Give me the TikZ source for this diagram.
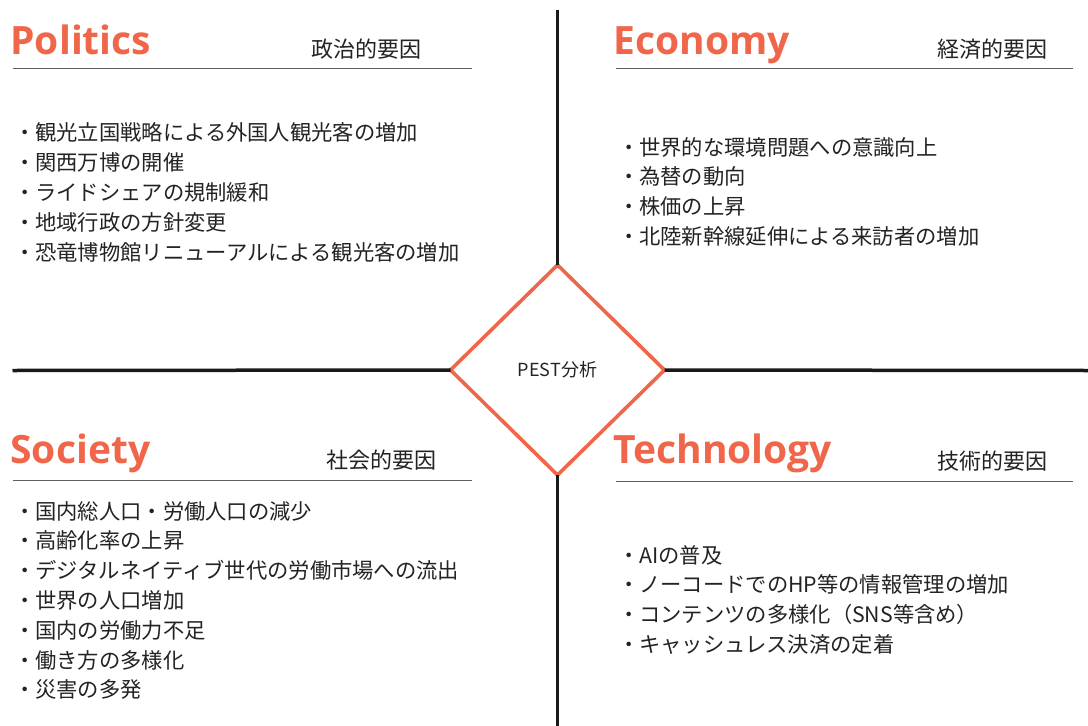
\documentclass[tikz,border=0pt]{standalone}
\usepackage{fontspec}
\setmainfont{Noto Sans CJK JP}
\newfontfamily\jpfont{Noto Sans CJK JP}
\newfontfamily\hdrfont{Open Sans}
\usetikzlibrary{shapes.geometric}
\definecolor{accent}{RGB}{240,102,74}
\definecolor{rulegray}{RGB}{95,95,95}
\definecolor{txt}{RGB}{35,35,35}
\begin{document}
\begin{tikzpicture}[x=1pt,y=-1pt,
  hdrtitle/.style={anchor=base west, inner sep=0pt, outer sep=0pt, text=accent, font=\hdrfont\bfseries\fontsize{39}{39}\selectfont},
  hdrlabel/.style={anchor=base west, inner sep=0pt, outer sep=0pt, text=txt, font=\jpfont\fontsize{22}{22}\selectfont},
  itemtext/.style={anchor=base west, inner sep=0pt, outer sep=0pt, text=txt, font=\jpfont\fontsize{21.3}{21.3}\selectfont},
  axisline/.style={line width=3.5pt, draw=black!90},
  underline/.style={line width=1.6pt, draw=rulegray},
  hub/.style={diamond, draw=accent, line width=3.6pt, fill=white, minimum width=214pt, minimum height=210pt, inner sep=0pt, outer sep=0pt, text=txt, font=\jpfont\fontsize{18}{18}\selectfont}
]
\useasboundingbox[fill=white] (0,0) rectangle (1088,726);

% centre hub
\node[hub] (hub) at (557.5,370) {PEST分析};

% axes
\coordinate (vtop) at (557.5,9.5);
\coordinate (vbot) at (557.5,726);
\coordinate (hleft) at (12.5,370.5);
\coordinate (hright) at (1088,370.5);
\draw[axisline] (vtop) -- (hub.north);
\draw[axisline] (hub.south) -- (vbot);
\draw[axisline] (hleft) -- (hub.west);
\draw[axisline] (hub.east) -- (hright);

% Politics
\node[hdrtitle] (pT) at (10.5,54) {Politics};
\node[hdrlabel] (pL) at (311,57.4) {政治的要因};
\coordinate (pu1) at (13,68.3);
\coordinate (pu2) at (472,68.3);
\draw[underline] (pu1) -- (pu2);
\foreach \t [count=\i from 0] in {・観光立国戦略による外国人観光客の増加,・関西万博の開催,・ライドシェアの規制緩和,・地域行政の方針変更,・恐竜博物館リニューアルによる観光客の増加}
  \node[itemtext] (p\i) at (14,140.1+30*\i) {\t};

% Economy
\node[hdrtitle] (eT) at (613.5,54) {Economy};
\node[hdrlabel] (eL) at (937,57.9) {経済的要因};
\coordinate (eu1) at (616,68.3);
\coordinate (eu2) at (1073,68.3);
\draw[underline] (eu1) -- (eu2);
\foreach \t [count=\i from 0] in {・世界的な環境問題への意識向上,・為替の動向,・株価の上昇,・北陸新幹線延伸による来訪者の増加}
  \node[itemtext] (e\i) at (618,155.1+29.7*\i) {\t};

% Society
\node[hdrtitle] (sT) at (10.5,463) {Society};
\node[hdrlabel] (sL) at (326,468.4) {社会的要因};
\coordinate (su1) at (13,480.5);
\coordinate (su2) at (472,480.5);
\draw[underline] (su1) -- (su2);
\foreach \t [count=\i from 0] in {・国内総人口・労働人口の減少,・高齢化率の上昇,・デジタルネイティブ世代の労働市場への流出,・世界の人口増加,・国内の労働力不足,・働き方の多様化,・災害の多発}
  \node[itemtext] (s\i) at (14,519.1+29.8*\i) {\t};

% Technology
\node[hdrtitle] (tT) at (613.5,463) {Technology};
\node[hdrlabel] (tL) at (937,469.4) {技術的要因};
\coordinate (tu1) at (616,481.5);
\coordinate (tu2) at (1073,481.5);
\draw[underline] (tu1) -- (tu2);
\foreach \t [count=\i from 0] in {・AIの普及,・ノーコードでのHP等の情報管理の増加,・コンテンツの多様化（SNS等含め）,・キャッシュレス決済の定着}
  \node[itemtext] (t\i) at (618,563.1+29.7*\i) {\t};
\end{tikzpicture}
\end{document}
